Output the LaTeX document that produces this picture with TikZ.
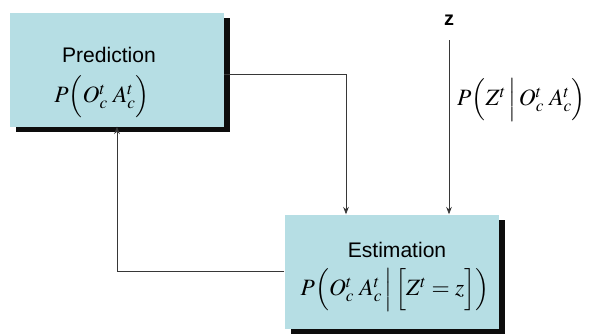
\documentclass[tikz,border=0pt]{standalone}
\usepackage{mathptmx}
\usepackage[no-math]{fontspec}
\setsansfont{Liberation Sans}
\usetikzlibrary{arrows.meta,calc,shadows}
\definecolor{BoxBlue}{RGB}{182,222,228}
\definecolor{LineGray}{RGB}{55,55,55}
\tikzset{
  statebox/.style={fill=BoxBlue,minimum width=64.2mm,minimum height=34.2mm,
    drop shadow={shadow xshift=1.8mm,shadow yshift=-1.6mm,fill=black,opacity=0.95}},
  boxtitle/.style={inner sep=0pt,font=\sffamily\fontsize{18}{21.6}\selectfont},
  boxmath/.style={inner sep=0pt,font=\fontsize{20}{24}\selectfont},
  flowline/.style={-{Stealth[length=2.2mm,width=1.7mm]},
    line width=0.6pt,draw=LineGray},
}

\begin{document}
\begin{tikzpicture}[x=0.3mm,y=-0.3mm]
  \useasboundingbox (0,0) rectangle (595,334);
  \node[statebox] (pred) at (117,69.5) {};
  \node[statebox] (est) at (391.5,271.5) {};
  \node[boxtitle] (predtitle) at (109,55) {Prediction};
  \node[boxmath] (predprob) at (102,97) {$P\Bigl(O_c^t\;A_c^t\Bigr)$};
  \node[boxtitle] (esttitle) at (397,250) {Estimation};
  \node[boxmath] (estprob) at (395,290) {$P\Bigl(O_c^t\;A_c^t\,\Big|\,\Bigl[Z^t=z\Bigr]\Bigr)$};
  \node[font=\sffamily\bfseries\fontsize{17}{20}\selectfont,inner sep=0pt] (z) at (449,20) {z};
  \node[boxmath,anchor=west] (lik) at (457,100) {$P\Bigl(Z^t\,\Big|\,O_c^t\;A_c^t\Bigr)$};
  \draw[flowline] ($(pred.east)+(0,4.5)$) -| ($(est.north)+(-45.5,0)$);
  \draw[flowline] (est.west) -| (pred.south);
  \draw[flowline,shorten <=4.5mm] (z.south) -- (z.south |- est.north);
\end{tikzpicture}
\end{document}
